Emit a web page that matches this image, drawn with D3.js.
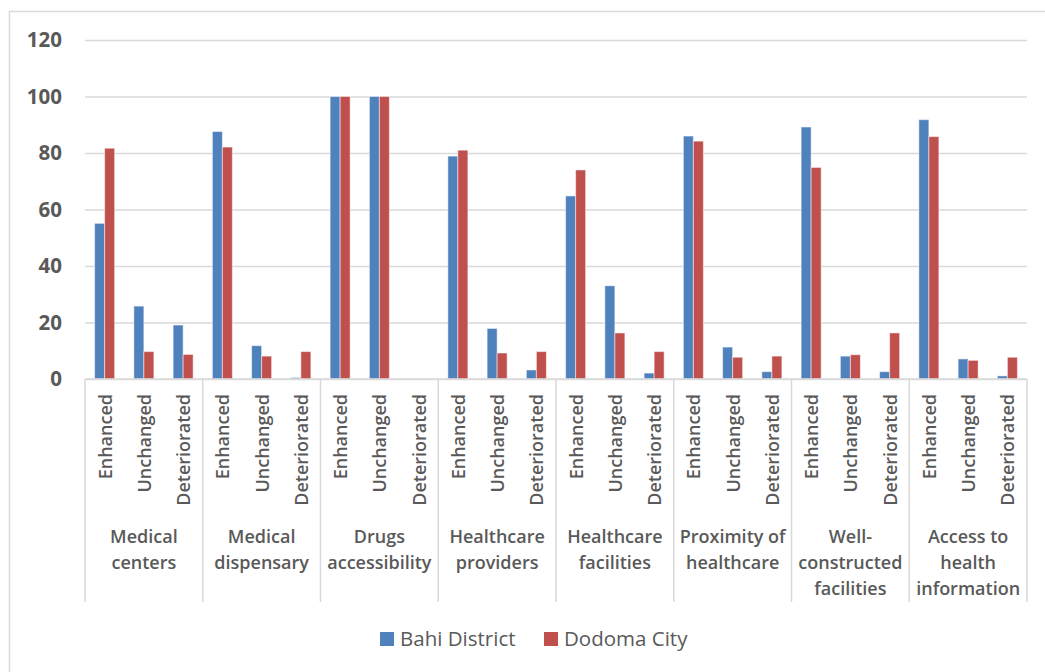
<!DOCTYPE html>
<html><head><meta charset="utf-8">
<script src="https://cdn.jsdelivr.net/npm/d3@7"></script>
<style>body{margin:0;background:#fff}svg{display:block}</style>
</head><body>
<script>
const groups = [["Medical","centers"],["Medical","dispensary"],["Drugs","accessibility"],["Healthcare","providers"],["Healthcare","facilities"],["Proximity of","healthcare"],["Well-","constructed","facilities"],["Access to","health","information"]];
const statuses = ["Enhanced","Unchanged","Deteriorated"];
const seriesNames = ["Bahi District","Dodoma City"];
const bahi = [55.1,25.8,19.1, 87.6,11.8,0.5, 100,100,0, 78.9,17.9,3.2, 64.8,33.0,2.1, 86.0,11.3,2.6, 89.2,8.1,2.6, 91.8,7.1,1.1];
const dodoma = [81.7,9.7,8.7, 82.1,8.1,9.7, 100,100,0, 81.0,9.2,9.7, 74.0,16.3,9.7, 84.2,7.7,8.1, 74.9,8.6,16.3, 85.8,6.6,7.7];
const yTicks = [0,20,40,60,80,100,120];
const colors = ["#4F81BD","#C0504D"];

const FONT="'Open Sans', sans-serif";
const W=1045,H=672;
const L=85,R=1027,T=40,B=379;
const svg=d3.select("body").append("svg").attr("width",W).attr("height",H);
svg.append("rect").attr("x",9.5).attr("y",11.5).attr("width",1040).attr("height",670).attr("fill","#fff").attr("stroke","#D9D9D9").attr("stroke-width",1.5);

const y=d3.scaleLinear().domain([0,120]).range([B,T]);
const keys=[];
groups.forEach((g,gi)=>statuses.forEach((s,si)=>keys.push(gi*3+si)));
const x=d3.scaleBand().domain(keys).range([L,R]).padding(0);
const gx=d3.scaleBand().domain(d3.range(groups.length)).range([L,R]);
const bw=x.bandwidth();
const inner=d3.scaleBand().domain([0,1]).range([bw*0.245,bw*0.755]).padding(0);

// grid
const yAxis=d3.axisLeft(y).tickValues(yTicks).tickSize(-(R-L)).tickFormat(d3.format("d"));
const ga=svg.append("g").attr("transform",`translate(${L},0)`).call(yAxis);
ga.select(".domain").remove();
ga.selectAll(".tick line").attr("stroke","#D9D9D9").attr("stroke-width",1.5);
ga.selectAll(".tick text").attr("x",-23).attr("dy","0.34em").attr("fill","#595959").style("font-family",FONT).style("font-weight","bold").style("font-size","20.5px");

// bars
const data=[];
keys.forEach(k=>{data.push({k,s:0,v:bahi[k]});data.push({k,s:1,v:dodoma[k]});});
svg.append("g").selectAll("rect").data(data).join("rect")
 .attr("x",d=>x(d.k)+inner(d.s)).attr("width",inner.bandwidth())
 .attr("y",d=>y(d.v)).attr("height",d=>y(0)-y(d.v))
 .attr("fill",d=>colors[d.s]).attr("stroke","#fff").attr("stroke-opacity",0.5).attr("stroke-width",1);

// category axis
const axG=svg.append("g");
axG.append("line").attr("x1",L).attr("x2",R).attr("y1",B).attr("y2",B).attr("stroke","#D9D9D9").attr("stroke-width",1.5);
d3.range(groups.length+1).forEach(i=>{
  const xx=i<groups.length?gx(i):R;
  axG.append("line").attr("x1",xx).attr("x2",xx).attr("y1",B).attr("y2",602).attr("stroke","#D9D9D9").attr("stroke-width",1.5);
});
axG.selectAll("text.sub").data(keys).join("text").attr("class","sub")
 .attr("transform",k=>`translate(${x(k)+bw/2+7},394) rotate(-90)`)
 .attr("text-anchor","end").attr("fill","#595959")
 .style("font-family",FONT).style("font-weight","600").style("font-size","18px")
 .text(k=>statuses[k%3]);
groups.forEach((g,gi)=>{
  const t=axG.append("text").attr("text-anchor","middle").attr("fill","#595959")
   .style("font-family",FONT).style("font-weight","600").style("font-size","18px");
  g.forEach((line,li)=>t.append("tspan").attr("x",gx(gi)+gx.bandwidth()/2).attr("y",543+li*26).text(line));
});

// legend
const lg=svg.append("g");
const lx=[380,544];
seriesNames.forEach((n,i)=>{
  lg.append("rect").attr("x",lx[i]).attr("y",632).attr("width",14).attr("height",14).attr("fill",colors[i]);
  lg.append("text").attr("x",lx[i]+20).attr("y",646).attr("fill","#595959")
   .style("font-family",FONT).style("font-size","20.5px").text(n);
});
</script>
</body></html>
